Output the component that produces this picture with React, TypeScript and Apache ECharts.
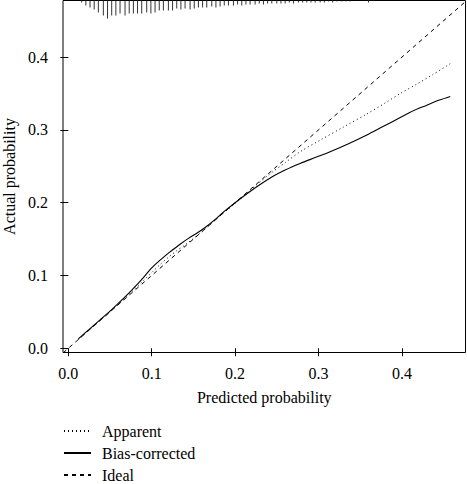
import React, { useEffect, useRef } from "react";
import * as echarts from "echarts";

// Apparent calibration curve (predicted vs actual)
const apparentX = [0.012, 0.03, 0.05, 0.07, 0.09, 0.1, 0.11, 0.12, 0.13, 0.14, 0.15, 0.16, 0.18, 0.2, 0.22, 0.24, 0.26, 0.278, 0.302, 0.33, 0.358, 0.38, 0.398, 0.418, 0.437, 0.458];
const apparentY = [0.012, 0.03, 0.05, 0.071, 0.093, 0.104, 0.115, 0.125, 0.134, 0.142, 0.151, 0.16, 0.18, 0.199, 0.219, 0.238, 0.255, 0.27, 0.286, 0.304, 0.322, 0.337, 0.35, 0.363, 0.376, 0.391];

// Bias-corrected calibration curve
const biasX = [0.012, 0.025, 0.038, 0.05, 0.062, 0.072, 0.082, 0.09, 0.098, 0.104, 0.11, 0.116, 0.122, 0.134, 0.144, 0.154, 0.164, 0.174, 0.187, 0.2, 0.215, 0.23, 0.245, 0.26, 0.278, 0.296, 0.314, 0.336, 0.358, 0.378, 0.398, 0.415, 0.43, 0.445, 0.458];
const biasY = [0.013, 0.026, 0.039, 0.051, 0.064, 0.075, 0.087, 0.097, 0.108, 0.115, 0.121, 0.127, 0.1325, 0.143, 0.151, 0.158, 0.166, 0.175, 0.188, 0.2, 0.213, 0.225, 0.236, 0.245, 0.254, 0.262, 0.27, 0.281, 0.293, 0.305, 0.317, 0.327, 0.334, 0.341, 0.346];

// Ideal reference line end points
const idealX = [-0.006, 0.48];
const idealY = [-0.006, 0.48];

// Distribution of predicted probabilities (spike histogram along the top)
const rugX = [0.016, 0.021, 0.026, 0.031, 0.036, 0.042, 0.047, 0.052, 0.057, 0.062, 0.068, 0.073, 0.078, 0.083, 0.088, 0.094, 0.099, 0.104, 0.109, 0.114, 0.12, 0.125, 0.13, 0.135, 0.14, 0.146, 0.151, 0.156, 0.161, 0.166, 0.172, 0.177, 0.182, 0.187, 0.192, 0.198, 0.203, 0.208, 0.213, 0.218, 0.224, 0.229, 0.234, 0.239, 0.244, 0.25, 0.255, 0.26, 0.265, 0.27, 0.276, 0.281, 0.286, 0.291, 0.296, 0.302, 0.307, 0.312, 0.317, 0.322, 0.328, 0.333, 0.338, 0.36];
const rugHeights = [2, 5, 7, 9, 12, 15, 18, 15, 15, 13, 15, 13, 13, 13, 13, 12, 13, 12, 10, 10, 10, 10, 8, 9, 8, 9, 8, 7, 7, 7, 6, 7, 6, 5, 5, 5, 4, 5, 4, 4, 4, 3, 4, 3, 3, 3, 3, 3, 2, 3, 2, 2, 2, 2, 2, 2, 2, 1, 2, 1, 1, 1, 1, 2];

const tickValues = [0, 0.1, 0.2, 0.3, 0.4];
const legendNames = ["Apparent", "Bias-corrected", "Ideal"];

const FONT = "Liberation Serif";

export default function App() {
  const ref = useRef<HTMLDivElement>(null);

  useEffect(() => {
    if (!ref.current) return;
    const chart = echarts.init(ref.current, undefined, { renderer: "svg" });

    const pairs = (xs: number[], ys: number[]) => xs.map((x, i) => [x, ys[i]]);

    const axisCommon = {
      axisLine: { show: false },
      splitLine: { show: false },
      axisTick: {
        show: true,
        length: 8,
        inside: false,
        customValues: tickValues,
        lineStyle: { color: "#000", width: 1 },
      },
      axisLabel: {
        customValues: tickValues,
        color: "#000",
        fontFamily: FONT,
        fontSize: 16,
        formatter: (v: number) => v.toFixed(1),
      },
      nameLocation: "middle" as const,
      nameTextStyle: { color: "#000", fontFamily: FONT, fontSize: 16 },
    };

    // one legend block per entry, stacked vertically under the plot
    const legendTops = [423, 445, 467];
    const legends = legendNames.map((name, i) => ({
      data: [name],
      orient: "vertical",
      left: 63,
      top: legendTops[i],
      padding: 0,
      itemWidth: 27,
      itemHeight: 10,
      itemStyle: { opacity: 0 },
      textStyle: {
        color: "#000",
        fontFamily: FONT,
        fontSize: 16,
        padding: [0, 0, 0, 6],
      },
    }));

    chart.setOption({
      animation: false,
      backgroundColor: "#fff",
      textStyle: { fontFamily: FONT },
      grid: {
        left: 63,
        right: 1.5,
        top: 0.5,
        bottom: 131.5,
        containLabel: false,
        outerBoundsMode: "none",
        show: true,
        borderColor: "#000",
        borderWidth: 1,
        backgroundColor: "transparent",
      },
      xAxis: {
        type: "value",
        min: -0.0064,
        max: 0.4763,
        name: "Predicted probability",
        nameGap: 37,
        ...axisCommon,
        axisLabel: { ...axisCommon.axisLabel, margin: 13 },
      },
      yAxis: [
        {
          type: "value",
          min: -0.0058,
          max: 0.4778,
          name: "Actual probability",
          nameGap: 46,
          ...axisCommon,
          axisLabel: { ...axisCommon.axisLabel, margin: 15 },
        },
        {
          type: "value",
          min: 0,
          max: 352,
          inverse: true,
          show: false,
        },
      ],
      legend: legends,
      series: [
        {
          name: "Apparent",
          type: "line",
          data: pairs(apparentX, apparentY),
          symbol: "none",
          smooth: 0.3,
          lineStyle: { color: "#000", width: 1, type: [1, 3] },
          itemStyle: { color: "#000" },
        },
        {
          name: "Bias-corrected",
          type: "line",
          data: pairs(biasX, biasY),
          symbol: "none",
          smooth: 0.3,
          lineStyle: { color: "#000", width: 1.1, type: "solid" },
          itemStyle: { color: "#000" },
        },
        {
          name: "Ideal",
          type: "line",
          data: pairs(idealX, idealY),
          symbol: "none",
          lineStyle: { color: "#000", width: 1, type: [4, 4] },
          itemStyle: { color: "#000" },
        },
        {
          name: "rug",
          type: "custom",
          xAxisIndex: 0,
          yAxisIndex: 1,
          data: pairs(rugX, rugHeights),
          silent: true,
          renderItem: (_params: any, api: any) => {
            const x = api.value(0);
            const h = api.value(1);
            const p0 = api.coord([x, 0]);
            const p1 = api.coord([x, h]);
            return {
              type: "line",
              shape: { x1: p0[0], y1: p0[1], x2: p1[0], y2: p1[1] },
              style: { stroke: "#333", lineWidth: 1 },
            };
          },
        },
      ],
    });

    return () => chart.dispose();
  }, []);

  return <div ref={ref} style={{ width: 467, height: 484, position: "fixed", left: 0, top: 0 }} />;
}
